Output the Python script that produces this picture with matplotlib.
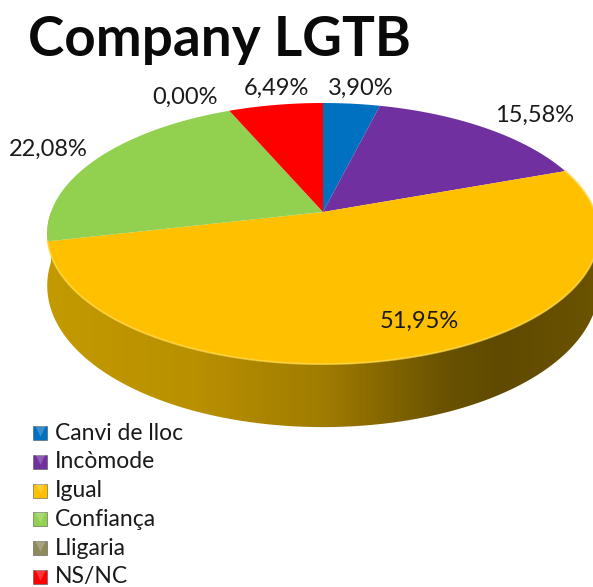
import numpy as np
import matplotlib
matplotlib.use("Agg")
import matplotlib.pyplot as plt
from matplotlib.colors import LinearSegmentedColormap
from matplotlib.patches import Polygon

title = "Company LGTB"
categories = ["Canvi de lloc", "Incòmode", "Igual", "Confiança", "Lligaria", "NS/NC"]
values = [3.90, 15.58, 51.95, 22.08, 0.00, 6.49]
colors = ["#0070c0", "#7030a0", "#ffc000", "#92d050", "#8f8a5c", "#ff0000"]

# where the percent labels sit, in pixels
label_pos = [(361, 88), (535, 115), (419, 321), (48, 149), (185, 97), (276, 88)]

plt.rcParams['font.family'] = ['Lato', 'DejaVu Sans']

W, H = 593, 587
fig = plt.figure(figsize=(W / 100, H / 100), dpi=100)
ax = fig.add_axes([0, 0, 1, 1])

# pie works out the angles, then they get pushed through a perspective
wedges, _ = ax.pie(values, startangle=90, counterclock=False, colors=colors)
ax.set_aspect('auto')
ax.set_xlim(0, W)
ax.set_ylim(H, 0)
ax.axis('off')

cx, cy = 323, 212
a, b, k = 127, 272, 0.165


def project(u, v):
    d = 1 + k * v
    return cx + b * u / d, cy - a * v / d


for w in wedges:
    t = np.radians(np.linspace(w.theta1, w.theta2, 200))
    x, y = project(np.cos(t), np.sin(t))
    col = w.get_facecolor()
    w.remove()
    ax.add_patch(Polygon(np.column_stack([np.r_[cx, x], np.r_[cy, y]]), closed=True,
                         facecolor=col, edgecolor='none', zorder=3))

# side of the cake, only the front half of the rim
t = np.radians(np.linspace(-180, 0, 300))
u, v = np.cos(t), np.sin(t)
x, y = project(u, v)
depth = 50 - 13 * v
side = Polygon(np.column_stack([np.r_[x, x[::-1]], np.r_[y, (y + depth)[::-1]]]),
               closed=True, facecolor='none', edgecolor='none')
ax.add_patch(side)
side_cmap = LinearSegmentedColormap.from_list("side", [
    (0.0, "#c49a00"), (0.27, "#b89000"), (0.5, "#a07c00"),
    (0.72, "#6a5200"), (0.82, "#5f4a00"), (1.0, "#6b5300")])
img = ax.imshow(np.linspace(0, 1, 400).reshape(1, -1), cmap=side_cmap, aspect='auto',
                extent=(47, 600, 440, 200), zorder=2)
img.set_clip_path(side)
ax.set_xlim(0, W)
ax.set_ylim(H, 0)

# light rim along the front of the yellow slice
t = np.radians(np.linspace(wedges[2].theta1, wedges[2].theta2, 300))
x, y = project(np.cos(t), np.sin(t))
ax.plot(x, y, color="#ffd84a", lw=1.4, alpha=0.7, zorder=4)

ax.text(219, 40, title, fontsize=39.4, fontweight='bold', ha='center', va='center',
        color="#0a0a0a", zorder=6)

for val, (lx, ly) in zip(values, label_pos):
    ax.text(lx, ly, f"{val:.2f}%".replace('.', ','), fontsize=17, ha='center', va='center',
            color="#1a1a1a", zorder=6)

# legend with the little bevelled squares
for i, (name, col) in enumerate(zip(categories, colors)):
    ly = 433 + i * 28.8
    ax.scatter([40], [ly], marker='s', s=105, color=col, edgecolors='#555555',
               linewidths=0.4, zorder=5)
    ax.scatter([40], [ly - 2.5], marker='v', s=55, color='white', alpha=0.22,
               linewidths=0, zorder=6)
    ax.text(55, ly, name, fontsize=16.5, ha='left', va='center', color="#1a1a1a", zorder=6)

fig.savefig("out.png", dpi=100, facecolor='white')
